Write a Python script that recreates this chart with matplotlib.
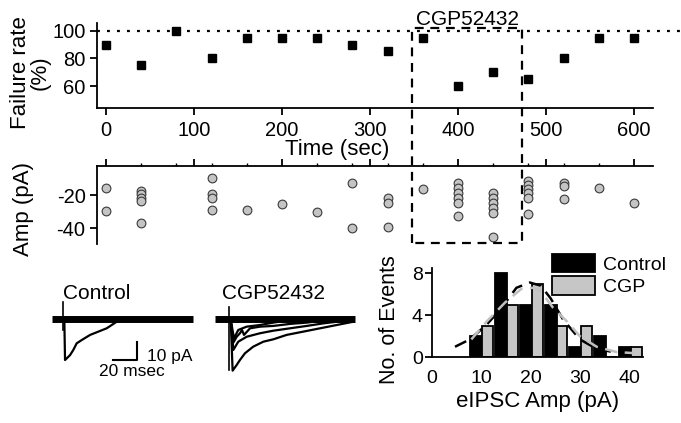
import numpy as np
import matplotlib
matplotlib.use("Agg")
import matplotlib.pyplot as plt
from matplotlib.lines import Line2D

plt.rcParams['font.family'] = ['Liberation Sans', 'DejaVu Sans']
plt.rcParams['axes.unicode_minus'] = False
plt.rcParams['axes.linewidth'] = 1.3

# Failure rate vs time
times = [0, 40, 80, 120, 160, 200, 240, 280, 320, 360, 400, 440, 480, 520, 560, 600]
failure_rate = [90, 75, 100, 80, 95, 95, 95, 90, 85, 95, 60, 70, 65, 80, 95, 95]

# eIPSC amplitudes of the successes (time, amplitude)
amp_t = [0, 0,
         40, 40, 40, 40, 40,
         120, 120, 120, 120,
         160, 200, 240,
         280, 280,
         320, 320, 320,
         360,
         400, 400, 400, 400, 400, 400,
         440, 440, 440, 440, 440, 440,
         480, 480, 480, 480, 480, 480,
         520, 520, 520,
         560, 600]
amp_pA = [-16, -29.5,
          -17.5, -19.5, -21.5, -23.5, -36.5,
          -9.5, -19.5, -22, -29,
          -29, -25.5, -30,
          -12.5, -40,
          -22, -25, -39,
          -16.5,
          -13, -16, -19, -22, -25, -32.5,
          -19, -22, -24.5, -27.5, -30.5, -45,
          -11.5, -14, -16.5, -19, -21.5, -31.5,
          -12.5, -14.5, -22.5,
          -15.5, -25]

# drug application window (sec)
cgp_start, cgp_end = 348, 473

# example traces (ms, pA)
ctrl_base_t = [0, 117.5]
ctrl_art_t, ctrl_art_pA = [9.2, 9.2], [9.6, -5.8]
ctrl_t = [10.5, 11.1, 15.3, 18, 20.8, 25, 32, 38.9, 45.8, 50, 54.2, 58.3]
ctrl_pA = [0, -22.2, -19.5, -16.7, -13.1, -11.3, -8.5, -6.7, -4.9, -3.1, -1.3, 0]

cgp_base_t = [0, 116.7]
cgp_art_t, cgp_art_pA = [11.9, 11.9], [6.9, -27.6]
cgp_big_t = [13.1, 14.7, 18.1, 20.8, 25, 31.9, 40.3, 48.6, 59.7, 73.6, 87.5, 101.4, 115.3]
cgp_big_pA = [0, -28, -24.9, -22.2, -18.5, -14.9, -12.2, -10.9, -8.5, -6.7, -4.9, -3.1, -1.3]
cgp_a_t = [13.1, 15.3, 18.1, 20.8, 22.5, 24.2, 29.2, 37.5, 48.6, 62.5, 76.4, 90.3, 104.2]
cgp_a_pA = [0, -12.7, -9.5, -7.6, -5.8, -8.5, -4.9, -4.0, -3.6, -2.5, -1.8, -0.7, 0]
cgp_b_t = [13.1, 15.8, 19.4, 26.4, 37.5, 48.6, 59.7, 70.8]
cgp_b_pA = [0, -10.4, -5.8, -4.0, -3.1, -1.8, -0.7, 0]
cgp_d_t = [13.1, 15.3, 19.4, 26.4, 37.5, 48.6, 62.5, 76.4, 90.3, 104.2, 115.3]
cgp_d_pA = [0, -16.7, -12.2, -9.5, -7.6, -6.2, -4.9, -3.6, -2.2, -1.1, -0.4]

# amplitude histogram
bin_centers = np.array([10, 15, 20, 25, 30, 35, 40])
count_ctrl = [2, 8, 5, 5, 1, 2, 1]
count_cgp = [3, 5, 7, 3, 3, 0, 1]
fit_ctrl_x = [4.7, 7.7, 11.1, 14.1, 17.1, 19.8, 22, 24, 26.5, 29.9, 33.3, 36.6, 40.7]
fit_ctrl_y = [1.0, 1.7, 3.1, 4.7, 6.6, 7.1, 6.8, 5.6, 3.6, 1.7, 0.8, 0.5, 0.6]
fit_cgp_x = [8, 11.1, 14.8, 18.1, 20.5, 21.8, 24.5, 27.3, 29.9, 33.3, 37.3, 40.7]
fit_cgp_y = [1.7, 3.4, 5.2, 6.5, 6.6, 6.4, 4.7, 3.4, 2.0, 1.0, 0.5, 0.4]

W, H = 681, 423
fig = plt.figure(figsize=(W / 100, H / 100), dpi=100)

def px_axes(x0, y0, x1, y1):
    # axes from pixel box (left, top, right, bottom)
    return fig.add_axes([x0 / W, 1 - y1 / H, (x1 - x0) / W, (y1 - y0) / H])

tick_kw = dict(direction='out', width=1.3, length=5)

# --- failure rate ---
ax1 = px_axes(96.7, 23.3, 653, 108.3)
ax1.plot(times, failure_rate, 's', color='black', ms=6)
ax1.set_xlim(-10.6, 621.6)
ax1.set_ylim(44, 105.3)
ax1.plot([-10.6, 652], [100, 100], color='black', lw=1.6,
         linestyle=(0, (1.3, 3.2)), clip_on=False)
ax1.set_xticks(range(0, 601, 100))
ax1.set_yticks([60, 80, 100])
ax1.spines[['top', 'right']].set_visible(False)
ax1.tick_params(labelsize=14.5, pad=3, **tick_kw)
ax1.tick_params(axis='x', pad=4.5)
ax1.set_xlabel('Time (sec)', fontsize=16)
ax1.xaxis.set_label_coords(0.432, -0.36)
ax1.set_ylabel('Failure rate\n(%)', fontsize=16, linespacing=0.95)
ax1.yaxis.set_label_coords(-0.082, 0.42)

# --- amplitudes ---
ax2 = px_axes(96.7, 166, 653, 244)
ax2.plot(amp_t, amp_pA, 'o', ms=6.3, mfc='#c4c4c4', mec='#3a3a3a', mew=0.8)
ax2.set_xlim(-10.6, 621.6)
ax2.set_ylim(-49.4, -2.6)
ax2.spines[['bottom', 'right']].set_visible(False)
ax2.xaxis.tick_top()
ax2.set_xticks(range(0, 601, 100))
ax2.set_xticks(range(0, 601, 40), minor=True)
ax2.tick_params(axis='x', labeltop=False, **tick_kw)
ax2.tick_params(axis='x', which='minor', direction='out', width=1.0, length=2.5)
ax2.set_yticks([-20, -40])
ax2.tick_params(axis='y', labelsize=14.5, pad=3, **tick_kw)
ax2.set_ylabel('Amp (pA)', fontsize=16)
ax2.yaxis.set_label_coords(-0.112, 0.45)

# dashed box marking CGP52432, spanning both panels
to_fig = fig.transFigure.inverted()
x_l, y_t = to_fig.transform(ax1.transData.transform((cgp_start, 102)))
x_r, _ = to_fig.transform(ax1.transData.transform((cgp_end, 102)))
_, y_b = to_fig.transform(ax2.transData.transform((cgp_start, -49)))
fig.add_artist(Line2D([x_l, x_l, x_r, x_r, x_l], [y_b, y_t, y_t, y_b, y_b],
                      transform=fig.transFigure, color='black', lw=1.6,
                      linestyle=(0, (4, 3))))
fig.text((x_l + x_r) / 2, y_t - 0.002, 'CGP52432', ha='center', va='bottom',
         fontsize=15)

# --- example traces ---
trace_ylim = (-33.1, 16)
axc = px_axes(45, 290, 200, 380)
axc.plot(ctrl_base_t, [0, 0], color='black', lw=5, solid_capstyle='butt')
axc.plot(ctrl_art_t, ctrl_art_pA, color='black', lw=1.2)
axc.plot(ctrl_t, ctrl_pA, color='black', lw=1.6)
# scale bar: 20 ms, 10 pA
axc.plot([51.3, 71.3, 71.3], [-22.2, -22.2, -12.2], color='black', lw=1.5)
axc.text(79.4, -20.4, '10 pA', fontsize=12.5, va='center', ha='left')
axc.text(66.5, -28.6, '20 msec', fontsize=12.5, va='center', ha='center')
axc.text(9.5, 9.0, 'Control', fontsize=15, va='bottom', ha='left')
axc.set_xlim(-5.6, 123.6)
axc.set_ylim(*trace_ylim)
axc.axis('off')

axg = px_axes(205, 290, 360, 380)
axg.plot(cgp_base_t, [0, 0], color='black', lw=5, solid_capstyle='butt')
axg.plot(cgp_art_t, cgp_art_pA, color='black', lw=1.2)
for tt, yy in [(cgp_big_t, cgp_big_pA), (cgp_a_t, cgp_a_pA),
               (cgp_b_t, cgp_b_pA), (cgp_d_t, cgp_d_pA)]:
    axg.plot(tt, yy, color='black', lw=1.6)
axg.text(5.8, 9.0, 'CGP52432', fontsize=15, va='bottom', ha='left')
axg.set_xlim(-8.3, 120.8)
axg.set_ylim(*trace_ylim)
axg.axis('off')

# --- histogram ---
ax3 = px_axes(431.7, 268.3, 643.3, 357.3)
b1 = ax3.bar(bin_centers + 0.2, count_ctrl, width=-2.4, align='edge',
             color='black', edgecolor='black', lw=1.3, label='Control')
b2 = ax3.bar(bin_centers + 0.2, count_cgp, width=2.2, align='edge',
             color='#c6c6c6', edgecolor='black', lw=1.3, label='CGP')
ax3.plot(fit_ctrl_x, fit_ctrl_y, color='black', lw=1.8, linestyle=(0, (5, 3)))
ax3.plot(fit_cgp_x, fit_cgp_y, color='#c0c0c0', lw=1.8, linestyle=(0, (5, 3)))
ax3.set_xlim(0, 42.7)
ax3.set_ylim(0, 8.45)
ax3.set_xticks([0, 10, 20, 30, 40])
ax3.set_yticks([0, 4, 8])
ax3.spines[['top', 'right']].set_visible(False)
ax3.tick_params(axis='y', labelsize=14, pad=1.5, direction='out', width=1.3, length=5)
ax3.tick_params(axis='x', labelsize=14, pad=9, length=0)
ax3.set_xlabel('eIPSC Amp (pA)', fontsize=16)
ax3.xaxis.set_label_coords(0.5, -0.38)
ax3.set_ylabel('No. of Events', fontsize=15.5)
ax3.yaxis.set_label_coords(-0.15, 0.42)
ax3.legend(loc='upper left', bbox_to_anchor=(0.567, 1.165), frameon=False,
           borderpad=0, borderaxespad=0, handlelength=2.25, handleheight=1.1,
           labelspacing=0.12, handletextpad=0.4, fontsize=14)

fig.savefig('out.png', dpi=100)
